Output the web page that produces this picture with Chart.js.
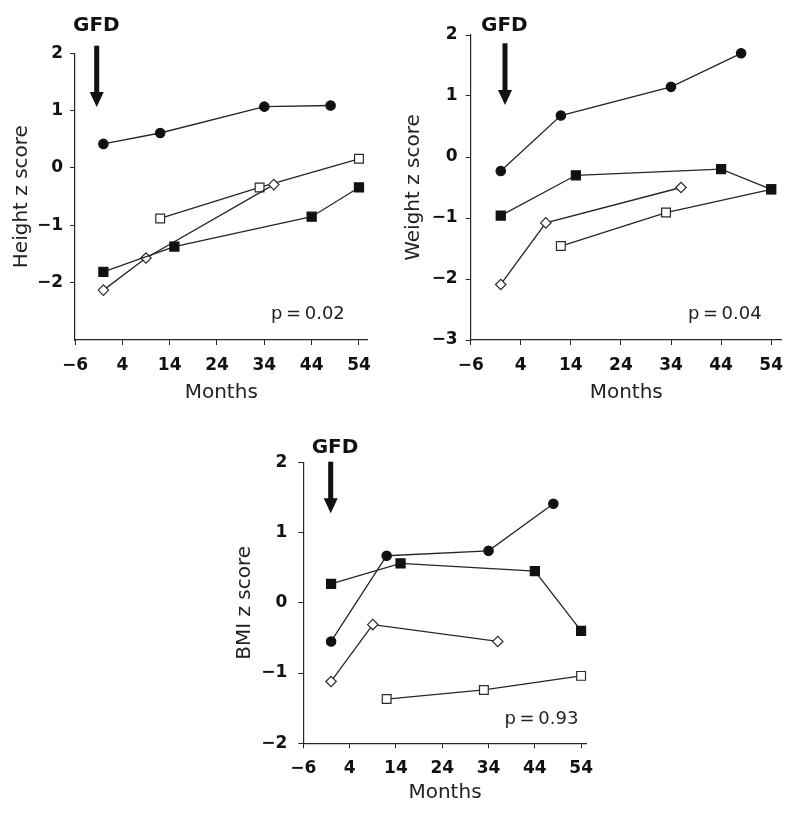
<!DOCTYPE html>
<html>
<head>
<meta charset="utf-8">
<title>Height, weight and BMI z scores after GFD</title>
<script src="https://cdn.jsdelivr.net/npm/chart.js@4.4.1/dist/chart.umd.min.js"></script>
<style>
    html, body { margin: 0; padding: 0; background: #fff; }
    #page { position: relative; width: 800px; height: 815px; overflow: hidden; background: #fff; }
    #page canvas { position: absolute; }
    #chart-height { left: 0; top: 0; }
    #chart-weight { left: 400px; top: 0; }
    #chart-bmi { left: 200px; top: 400px; }
</style>
</head>
<body>
<div id="page">
    <canvas id="chart-height" width="400" height="420"></canvas>
    <canvas id="chart-weight" width="400" height="420"></canvas>
    <canvas id="chart-bmi" width="400" height="415"></canvas>
</div>
<script>
// ========================================================================
// 1. DATA (months after starting the gluten-free diet)
// ========================================================================
const xTicks = [-6, 4, 14, 24, 34, 44, 54];

const circleMonths = [0, 12, 34, 48];
const filledSquareMonths = [0, 15, 44, 54];
const diamondMonths = [0, 9, 36];
const openSquareMonths = [12, 33, 54];

// Height z score
const heightCircle = [0.42, 0.61, 1.07, 1.09];
const heightFilledSquare = [-1.81, -1.37, -0.85, -0.34];
const heightDiamond = [-2.13, -1.57, -0.29];
const heightOpenSquare = [-0.88, -0.34, 0.16];

// Weight z score
const weightCircle = [-0.23, 0.68, 1.15, 1.70];
const weightFilledSquare = [-0.96, -0.30, -0.20, -0.53];
const weightDiamond = [-2.09, -1.08, -0.50];
const weightOpenSquare = [-1.46, -0.91, -0.53];

// BMI z score
const bmiCircle = [-0.55, 0.67, 0.74, 1.41];
const bmiFilledSquare = [0.27, 0.56, 0.45, -0.40];
const bmiDiamond = [-1.12, -0.31, -0.55];
const bmiOpenSquare = [-1.37, -1.24, -1.04];

const heightTicks = [-2, -1, 0, 1, 2];
const weightTicks = [-3, -2, -1, 0, 1, 2];
const bmiTicks = [-2, -1, 0, 1, 2];

// ========================================================================
// 2. HELPERS
// ========================================================================
const FONT = '"DejaVu Sans", Verdana, sans-serif';
const INK = '#111';
const LINE = '#262626';

function fmt(v) {
    return v < 0 ? '\u2212' + Math.abs(v) : String(v);
}

function toPoints(months, values) {
    return months.map((m, i) => ({ x: m, y: values[i] }));
}

// GFD label + arrow + p value, drawn over the chart
const notesPlugin = {
    id: 'gfdNotes',
    afterDraw(chart, args, o) {
        const ctx = chart.ctx;
        const { x, y } = chart.scales;
        ctx.save();
        ctx.fillStyle = INK;
        ctx.font = 'bold 20px ' + FONT;
        ctx.textAlign = 'center';
        ctx.textBaseline = 'alphabetic';
        ctx.fillText('GFD', o.labelX, o.labelY);

        const headH = 15, headW = 7;
        ctx.fillRect(o.arrowX - 2.5, o.arrowTop, 5, o.arrowTip - headH - o.arrowTop + 1);
        ctx.beginPath();
        ctx.moveTo(o.arrowX - headW, o.arrowTip - headH);
        ctx.lineTo(o.arrowX + headW, o.arrowTip - headH);
        ctx.lineTo(o.arrowX, o.arrowTip);
        ctx.closePath();
        ctx.fill();

        ctx.fillStyle = '#222';
        ctx.font = '18px ' + FONT;
        ctx.textAlign = 'right';
        ctx.fillText(o.pText, x.getPixelForValue(o.pMonth), y.getPixelForValue(o.pScore));
        ctx.restore();
    }
};

// ========================================================================
// 3. CHART BUILDER
// ========================================================================
function makeChart(canvasId, series, cfg) {
    const lineSet = (data, style, radius, fill) => ({
        data: data,
        showLine: true,
        borderColor: LINE,
        borderWidth: 1.3,
        pointStyle: style,
        pointRadius: radius,
        pointHoverRadius: radius,
        pointBackgroundColor: fill,
        pointBorderColor: fill === '#fff' ? '#2a2a2a' : INK,
        pointBorderWidth: 1.2
    });

    new Chart(document.getElementById(canvasId), {
        type: 'scatter',
        data: {
            datasets: [
                lineSet(toPoints(filledSquareMonths, series.filledSquare), 'rect', 6.4, INK),
                lineSet(toPoints(circleMonths, series.circle), 'circle', 4.7, INK),
                lineSet(toPoints(diamondMonths, series.diamond), 'rectRot', 5.2, '#fff'),
                lineSet(toPoints(openSquareMonths, series.openSquare), 'rect', 6.2, '#fff')
            ]
        },
        options: {
            responsive: false,
            animation: false,
            devicePixelRatio: 1,
            layout: { padding: { left: 0, top: cfg.top, right: cfg.right, bottom: 0 } },
            plugins: {
                legend: { display: false },
                tooltip: { enabled: false },
                gfdNotes: cfg.notes
            },
            scales: {
                x: {
                    type: 'linear',
                    min: -6,
                    max: cfg.xMax,
                    afterBuildTicks: s => { s.ticks = xTicks.map(v => ({ value: v })); },
                    afterFit: s => { s.height = cfg.xHeight; s.paddingLeft = 0; s.paddingRight = 0; },
                    grid: { drawOnChartArea: false, drawTicks: true, tickLength: 5, tickColor: LINE },
                    border: { display: true, color: LINE, width: 1.2 },
                    ticks: {
                        font: { family: FONT, size: 17, weight: 'bold' },
                        color: INK, padding: 10, maxRotation: 0, autoSkip: false,
                        callback: v => fmt(v)
                    },
                    title: {
                        display: true, text: 'Months', color: '#222',
                        font: { family: FONT, size: 20 },
                        padding: { top: 0, bottom: cfg.xTitlePad }
                    }
                },
                y: {
                    type: 'linear',
                    min: cfg.yMin,
                    max: cfg.yMax,
                    afterBuildTicks: s => { s.ticks = cfg.yTicks.map(v => ({ value: v })); },
                    afterFit: s => { s.width = cfg.yWidth; s.paddingTop = 0; s.paddingBottom = 0; },
                    grid: { drawOnChartArea: false, drawTicks: true, tickLength: 5, tickColor: LINE },
                    border: { display: true, color: LINE, width: 1.2 },
                    ticks: {
                        font: { family: FONT, size: 17, weight: 'bold' },
                        color: INK, padding: cfg.yTickPad, autoSkip: false,
                        callback: v => fmt(v)
                    },
                    title: {
                        display: true, text: cfg.yTitle, color: '#222',
                        font: { family: FONT, size: 20 },
                        padding: { top: cfg.yTitlePad, bottom: 0 }
                    }
                }
            }
        },
        plugins: [notesPlugin]
    });
}

// ========================================================================
// 4. THE THREE PANELS
// ========================================================================
makeChart('chart-height',
    { circle: heightCircle, filledSquare: heightFilledSquare, diamond: heightDiamond, openSquare: heightOpenSquare },
    {
        top: 53.3, right: 32.5, yWidth: 75, xHeight: 80, xMax: 55.8,
        yMin: -3, yMax: 2, yTicks: heightTicks, yTitle: 'Height z score',
        yTitlePad: 9.3, xTitlePad: 15.5, yTickPad: 7,
        notes: { labelX: 96.3, labelY: 30.7, arrowX: 96.7, arrowTop: 45.7, arrowTip: 107,
                 pText: 'p\u2009=\u20090.02', pMonth: 51, pScore: -2.64 }
    });

makeChart('chart-weight',
    { circle: weightCircle, filledSquare: weightFilledSquare, diamond: weightDiamond, openSquare: weightOpenSquare },
    {
        top: 35, right: 18.3, yWidth: 70.7, xHeight: 80, xMax: 56.1,
        yMin: -3, yMax: 2, yTicks: weightTicks, yTitle: 'Weight z score',
        yTitlePad: 2, xTitlePad: 15.5, yTickPad: 8,
        notes: { labelX: 104.3, labelY: 30.7, arrowX: 105, arrowTop: 43.3, arrowTip: 105,
                 pText: 'p\u2009=\u20090.04', pMonth: 52.1, pScore: -2.66 }
    });

makeChart('chart-bmi',
    { circle: bmiCircle, filledSquare: bmiFilledSquare, diamond: bmiDiamond, openSquare: bmiOpenSquare },
    {
        top: 62.3, right: 13.3, yWidth: 103.3, xHeight: 71.7, xMax: 55.2,
        yMin: -2, yMax: 2, yTicks: bmiTicks, yTitle: 'BMI z score',
        yTitlePad: 33, xTitlePad: 10.5, yTickPad: 11,
        notes: { labelX: 135, labelY: 53.3, arrowX: 130.7, arrowTop: 61.7, arrowTip: 113.3,
                 pText: 'p\u2009=\u20090.93', pMonth: 53.4, pScore: -1.725 }
    });
</script>
</body>
</html>
